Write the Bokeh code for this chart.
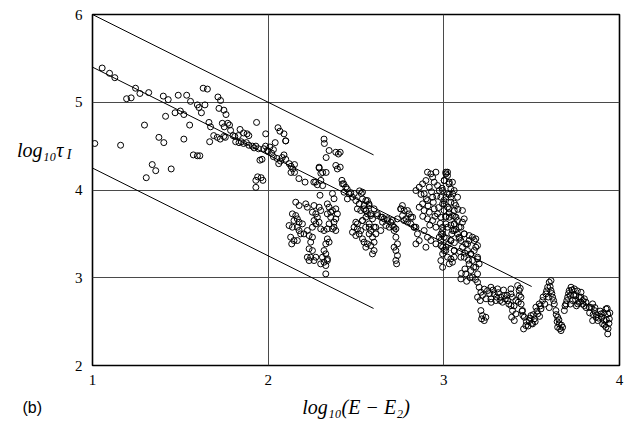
from bokeh.plotting import figure
from bokeh.models import FixedTicker, Range1d, LinearAxis, Title
from bokeh.embed import file_html
from bokeh.resources import INLINE

# ---- data: log10(E-E2) vs log10 tau_I ----
x_a = [1.055,1.097,1.127,1.013,1.16,1.194,1.22,1.245,1.27,1.32,1.296,1.34,1.36,1.306,1.378,1.406,1.448,1.403,1.431,1.416,
       1.47,1.50,1.52,1.488,1.536,1.52,1.553,1.558,1.597,1.606,1.574,1.597,1.611,1.63,1.654,1.64,1.62,1.663,1.672,1.667,
       1.69,1.714,1.729,1.72,1.748,1.76,1.739,1.75,1.77,1.78,1.71,1.727,1.747,1.756]
y_a = [5.39,5.33,5.28,4.53,4.51,5.04,5.05,5.16,5.10,5.11,4.74,4.29,4.22,4.14,4.60,4.54,4.24,5.07,5.03,4.84,
       4.88,4.90,4.86,5.08,5.08,4.58,4.74,5.01,4.97,4.94,4.40,4.39,4.39,5.16,5.15,4.97,4.88,4.77,4.72,4.55,
       4.62,5.06,5.02,4.93,4.91,4.86,4.76,4.72,4.76,4.74,4.60,4.58,4.61,4.60]
x_b = [1.786,1.80,1.81,1.83,1.84,1.86,1.88,1.89,1.815,1.834,1.847,1.86,1.876,1.89,1.91,1.92,1.93,1.945,1.934,1.94,
       1.93,1.96,1.97,1.93,1.953,1.965,1.975,1.985,1.995,1.986,2.01,2.00,2.02,2.03,2.056,2.067,2.09,2.10,2.03,2.05,
       2.06,2.07,2.08,2.09,2.10,2.12,2.13,2.14,2.15,2.13,2.15,2.175,2.21,2.26,2.28,2.29,2.30]
y_b = [4.68,4.62,4.61,4.62,4.69,4.65,4.64,4.62,4.55,4.54,4.55,4.53,4.54,4.51,4.50,4.48,4.50,4.47,4.77,4.15,
       4.11,4.14,4.11,4.03,4.34,4.35,4.47,4.50,4.45,4.64,4.49,4.44,4.42,4.46,4.71,4.67,4.64,4.56,4.38,4.36,
       4.30,4.33,4.37,4.40,4.35,4.30,4.27,4.24,4.29,4.20,4.20,4.13,4.09,4.09,4.06,4.25,4.19]
x_c = [2.318,2.32,2.347,2.33,2.385,2.40,2.41,2.29,2.31,2.33,2.385,2.394,2.41,2.27,2.30,2.31,2.295,2.42,2.43,2.45,
       2.47,2.49,2.52,2.53,2.366,2.375,2.04,2.10]
y_c = [4.58,4.53,4.45,4.37,4.43,4.41,4.43,4.26,4.20,4.20,4.28,4.24,4.26,4.09,4.11,4.05,3.94,4.11,4.07,4.01,
       3.97,3.96,3.99,3.96,3.96,3.90,4.54,4.56]
x_d = [2.157,2.176,2.214,2.223,2.261,2.290,2.299,2.271,2.252,2.337,2.347,2.356,2.366,2.385,2.394,2.337,2.356,2.385,2.375,2.138,
       2.157,2.166,2.147,2.176,2.195,2.166,2.176,2.138,2.119,2.128,2.147,2.166,2.134,2.185,2.204,2.233,2.252,2.242,2.223,2.252,
       2.271,2.290,2.280,2.261,2.299,2.318,2.337,2.366,2.385,2.375,2.347,2.337,2.347,2.328,2.233,2.252,2.242,2.261,2.271,2.233,
       2.223,2.318,2.328,2.309,2.337,2.318,2.299,2.328,2.337,2.328]
y_d = [3.861,3.823,3.842,3.804,3.823,3.804,3.766,3.728,3.747,3.842,3.804,3.747,3.766,3.785,3.728,3.728,3.690,3.671,3.633,3.728,
       3.709,3.671,3.652,3.633,3.614,3.576,3.538,3.576,3.595,3.462,3.424,3.424,3.386,3.500,3.500,3.481,3.462,3.406,3.538,3.576,
       3.614,3.633,3.690,3.652,3.557,3.538,3.557,3.557,3.538,3.576,3.614,3.443,3.406,3.386,3.330,3.310,3.234,3.196,3.234,3.196,
       3.234,3.310,3.272,3.234,3.215,3.177,3.158,3.139,3.196,3.044]
x_e = [2.423,2.442,2.432,2.461,2.480,2.451,2.499,2.518,2.537,2.546,2.556,2.527,2.508,2.565,2.556,2.537,2.499,2.489,2.508,2.527,
       2.480,2.499,2.518,2.537,2.546,2.565,2.556,2.508,2.575,2.575]
y_e = [4.070,4.032,3.975,3.956,3.918,3.899,3.880,3.842,3.899,3.823,3.766,3.766,3.785,3.728,3.690,3.652,3.633,3.576,3.557,3.538,
       3.519,3.481,3.500,3.443,3.406,3.386,3.348,3.614,3.576,3.500]
x_f = [2.537,2.556,2.574,2.546,2.603,2.622,2.584,2.650,2.679,2.707,2.736,2.755,2.764,2.793,2.812,2.612,2.641,2.555,2.537,2.717,
       2.831,2.774]
y_f = [3.975,3.880,3.842,3.785,3.785,3.728,3.709,3.690,3.671,3.652,3.671,3.785,3.823,3.766,3.690,3.576,3.538,3.576,3.652,3.576,
       3.576,3.652]
x_g = [2.565,2.575,2.556,2.584,2.594,2.575,2.603,2.584,2.613,2.594,2.603,2.584,2.603,2.594,
       2.622,2.641,2.660,2.679,2.698,2.651,2.670,2.689,2.708,2.727,
       2.717,2.727,2.736,2.717,2.727,2.736,2.727,2.731,
       2.755,2.774,2.765,2.784,2.803,2.793,2.812,2.822,2.831,
       2.841,2.850,2.860,2.841]
y_g = [3.880,3.823,3.766,3.728,3.671,3.614,3.576,3.538,3.500,3.462,3.405,3.367,3.310,3.272,
       3.709,3.690,3.671,3.652,3.633,3.633,3.595,3.576,3.595,3.557,
       3.538,3.462,3.386,3.348,3.310,3.253,3.197,3.159,
       3.785,3.766,3.709,3.671,3.728,3.633,3.614,3.690,3.576,
       3.576,3.500,3.424,3.386]
x_h = [2.841,2.860,2.879,2.888,2.898,2.907,2.926,2.936,2.955,2.945,2.917,2.964,2.974,2.983,3.002,3.012,3.021,3.031,3.040,3.050,
       3.012,2.993,2.936,2.907,2.879,2.860,2.888,2.917,2.945,2.964,2.983,3.002,3.021,3.040,3.059,3.031,3.012,2.993,2.974,2.955,
       2.936,2.907,2.888,2.907,2.926,2.955,2.983,3.002,3.021,3.031,3.012,3.040,3.050,3.059,3.069,2.898]
y_h = [3.994,4.032,4.070,3.956,4.108,4.203,4.184,4.146,4.203,4.089,4.032,4.051,3.994,3.918,4.108,4.184,4.203,4.089,4.013,3.956,
       3.918,3.842,3.918,3.880,3.842,3.804,3.766,3.747,3.785,3.728,3.690,3.766,3.804,3.861,3.766,3.690,3.614,3.538,3.462,3.576,
       3.652,3.671,3.538,3.462,3.424,3.386,3.367,3.310,3.235,3.159,3.348,3.424,3.538,3.614,3.690,3.348]
x_i = [3.011,3.021,3.002,3.030,2.993,3.021,3.049,3.059,3.040,3.002,3.030,3.068,3.011,3.049,3.078,3.021,3.059,3.097,3.002,3.040,
       3.087,3.116,3.144,3.011,3.059,3.106,3.135,3.173,3.182,3.154,3.097,3.040,3.192,3.078,3.106,3.116]
y_i = [4.203,4.165,4.108,4.070,3.994,3.956,4.089,3.994,3.918,3.842,3.785,3.823,3.690,3.709,3.652,3.576,3.538,3.576,3.462,3.424,
       3.462,3.500,3.481,3.310,3.310,3.348,3.386,3.424,3.348,3.272,3.234,3.215,3.234,3.918,3.766,3.671]
x_j = [2.87,2.90,2.93,2.96,2.99,3.03,3.06,2.88,2.92,2.95,2.98,3.01,3.04,3.07,3.09,2.91,2.94,2.97,3.00,3.03,
       3.06,3.08,2.985,3.015,3.045,3.025,3.06,3.09,3.12,3.14,3.17,3.12,3.15,3.18,3.10,3.13]
y_j = [3.95,3.90,3.98,3.93,4.02,3.95,3.85,3.70,3.60,3.70,3.62,3.70,3.60,3.55,3.45,3.82,3.86,3.80,3.88,3.74,
       3.70,3.78,3.50,3.45,3.50,3.38,3.40,3.30,3.28,3.20,3.12,3.10,3.00,2.98,3.05,2.96]
x_k = [2.993,2.993,2.983,2.993,2.993,2.983,2.993,
       3.059,3.087,3.106,3.078,3.116,3.097,3.125,3.144,3.163,3.182,3.192,3.173,3.154,3.135,3.116,3.163,3.192,3.182,3.154,3.125,3.097,3.163,3.201,3.192,3.144,3.059,3.059,3.049,
       3.192,3.201,3.211,3.192,3.207,
       3.211,3.220,3.230,3.215,3.239,
       3.249,3.268,3.287,3.306,3.325,3.344,3.363,3.268,3.296,3.382,3.382,3.334,
       3.382,3.391,3.386,3.401,3.410,
       3.420,3.429,3.439,3.424,
       3.448,3.458,3.467,3.454,3.486,3.496,3.515,3.534,3.524,3.543,3.553,3.505,
       3.562,3.581,3.591,3.600,3.610,3.619,3.610,3.629,
       3.638,3.648,3.657,3.667,3.676,3.648,
       3.695,3.705,3.714,3.724,3.743,3.752,3.771,3.781,3.790,3.809,3.733,3.762,3.800,3.686,
       3.828,3.847,3.857,3.866,3.876,3.895,3.914,3.923,3.933,3.923,3.933,3.942,3.904,3.847]
y_k = [3.576,3.500,3.424,3.348,3.272,3.196,3.120,
       3.614,3.576,3.633,3.500,3.500,3.424,3.386,3.424,3.462,3.443,3.367,3.310,3.272,3.310,3.234,3.196,3.215,3.120,3.082,3.044,2.987,3.006,3.158,3.044,3.158,3.234,3.310,3.177,
       2.949,2.892,2.835,2.778,2.740,
       2.626,2.569,2.512,2.531,2.550,
       2.854,2.892,2.816,2.873,2.778,2.797,2.740,2.759,2.740,2.873,2.816,2.721,
       2.683,2.626,2.550,2.512,2.588,
       2.911,2.854,2.778,2.721,
       2.626,2.550,2.455,2.417,2.512,2.569,2.531,2.588,2.664,2.702,2.645,2.474,
       2.740,2.816,2.892,2.949,2.854,2.778,2.968,2.702,
       2.626,2.550,2.474,2.398,2.436,2.436,
       2.702,2.778,2.854,2.892,2.873,2.797,2.778,2.835,2.740,2.721,2.740,2.702,2.683,2.626,
       2.664,2.702,2.626,2.550,2.512,2.588,2.512,2.436,2.360,2.645,2.588,2.531,2.474,2.512]
x_l = [3.22,3.23,3.24,3.26,3.27,3.28,3.30,3.31,3.32,3.34,3.35,3.36,3.37,3.39,3.40,3.41,
       3.43,3.435,3.44,3.445,3.45,
       3.47,3.48,3.49,3.50,3.51,3.52,3.53,3.545,3.55,
       3.565,3.575,3.585,3.595,3.605,3.615,3.625,3.60,
       3.64,3.645,3.66,3.655,3.67,
       3.69,3.70,3.71,3.72,3.73,3.74,3.75,3.76,3.77,3.78,3.79,3.80,3.81,3.72,3.755,
       3.83,3.84,3.85,3.86,3.87,3.88,3.89,3.90,3.91,3.915,3.925,3.935,3.94,3.945,3.93]
y_l = [2.80,2.87,2.76,2.82,2.72,2.86,2.78,2.83,2.74,2.86,2.76,2.80,2.70,2.78,2.68,2.74,
       2.80,2.88,2.70,2.62,2.57,
       2.50,2.45,2.54,2.48,2.58,2.50,2.62,2.56,2.68,
       2.78,2.70,2.85,2.78,2.90,2.82,2.74,2.66,
       2.58,2.50,2.42,2.52,2.46,
       2.68,2.74,2.82,2.80,2.86,2.80,2.75,2.85,2.72,2.78,2.70,2.76,2.66,2.70,2.68,
       2.60,2.66,2.58,2.66,2.58,2.54,2.62,2.55,2.60,2.46,2.52,2.42,2.48,2.60,2.65]

# reference lines of slope -1
upper_x = [1.0, 2.6]
upper_y = [6.0, 4.4]
mid_x = [1.0, 3.5]
mid_y = [5.4, 2.9]
lower_x = [1.0, 2.6]
lower_y = [4.25, 2.65]

x_ticks = [1, 2, 3, 4]
y_ticks = [2, 3, 4, 5, 6]
x_title = "log₁₀(E − E₂)"
y_title = "log₁₀τ"
y_title_sub = "I"
panel_tag = "(b)"

SERIF = "'Liberation Serif', 'DejaVu Serif', serif"

xs = x_a + x_b + x_c + x_d + x_e + x_f + x_g + x_h + x_i + x_j + x_k + x_l
ys = y_a + y_b + y_c + y_d + y_e + y_f + y_g + y_h + y_i + y_j + y_k + y_l

p = figure(width=627, height=428, output_backend="svg", toolbar_location=None,
           x_range=Range1d(1, 4), y_range=Range1d(2, 6),
           min_border_left=92, min_border_right=8, min_border_top=14, min_border_bottom=63)
p.background_fill_color = "white"
p.border_fill_color = "white"
p.outline_line_color = "black"
p.outline_line_width = 1.6

p.xaxis.ticker = FixedTicker(ticks=x_ticks)
p.yaxis.ticker = FixedTicker(ticks=y_ticks)
p.xgrid.ticker = FixedTicker(ticks=x_ticks)
p.ygrid.ticker = FixedTicker(ticks=y_ticks)
p.grid.grid_line_color = "#4a4a4a"
p.grid.grid_line_width = 1


def plain(ax):
    ax.axis_line_color = None
    ax.major_tick_line_color = None
    ax.minor_tick_line_color = None
    ax.major_tick_out = 0
    ax.major_tick_in = 0
    ax.minor_tick_out = 0
    ax.minor_tick_in = 0
    ax.major_label_text_color = "black"


for ax in p.axis:
    plain(ax)
p.axis.major_label_text_font = SERIF
p.axis.major_label_text_font_size = "15px"
p.xaxis.major_label_standoff = 9
p.yaxis.major_label_standoff = 10

p.xaxis.axis_label = x_title
p.xaxis.axis_label_text_font = SERIF
p.xaxis.axis_label_text_font_style = "italic"
p.xaxis.axis_label_text_font_size = "20px"
p.xaxis.axis_label_text_color = "black"
p.xaxis.axis_label_standoff = 8

# horizontal y title as the labels of two extra left axes
sub_axis = LinearAxis(ticker=FixedTicker(ticks=[4.41]), major_label_overrides={4.41: y_title_sub})
plain(sub_axis)
sub_axis.major_label_standoff = 0
sub_axis.major_label_text_font = SERIF
sub_axis.major_label_text_font_style = "italic"
sub_axis.major_label_text_font_size = "14px"
p.add_layout(sub_axis, "left")
main_axis = LinearAxis(ticker=FixedTicker(ticks=[4.46]), major_label_overrides={4.46: y_title})
plain(main_axis)
main_axis.major_label_standoff = 0
main_axis.major_label_text_font = SERIF
main_axis.major_label_text_font_style = "italic"
main_axis.major_label_text_font_size = "20px"
p.add_layout(main_axis, "left")

p.add_layout(Title(text=panel_tag, align="left", vertical_align="top", offset=-70, standoff=-44,
                   text_font="'Liberation Sans', Arial, sans-serif", text_font_style="normal",
                   text_font_size="16px", text_color="black"), "below")

for lx, ly in ((upper_x, upper_y), (mid_x, mid_y), (lower_x, lower_y)):
    p.line(lx, ly, line_color="black", line_width=1)

p.scatter(xs, ys, marker="circle", size=6, fill_color=None, line_color="black", line_width=1.0)

open("out.html", "w").write(file_html(p, INLINE))
